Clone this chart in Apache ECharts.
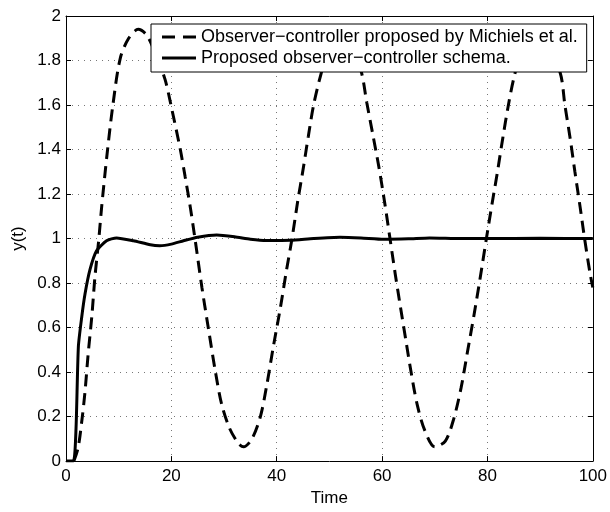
<!DOCTYPE html>
<html><head><meta charset="utf-8">
<script src="https://cdn.jsdelivr.net/npm/echarts@6/dist/echarts.min.js"></script>
<style>html,body{margin:0;padding:0;background:#fff}#c{width:610px;height:512px}</style>
</head><body><div id="c"></div>
<script>
const xTicks = [0, 20, 40, 60, 80, 100];
const yTicks = [0, 0.2, 0.4, 0.6, 0.8, 1, 1.2, 1.4, 1.6, 1.8, 2];
const seriesNames = ['Observer\u2212controller proposed by Michiels et al.', 'Proposed observer\u2212controller schema.'];
const michielsT = [1.5, 2.3, 3.0, 3.6, 4.2, 4.9, 5.5, 6.2, 6.8, 7.8, 8.9, 10.3, 11.9, 13.7, 15.3, 17, 18.8, 20.1, 21.7, 22.6, 23.6, 24.6, 25.8, 27.0, 28.3, 29.5, 31.0, 32.7, 33.7, 35.3, 36.9, 38.1, 39.4, 40.7, 41.8, 42.9, 44.0, 45.0, 46.0, 47.0, 48.3, 50, 52, 54, 56.1, 57.1, 58.3, 59.4, 60.5, 61.5, 62.5, 63.5, 64.5, 65.5, 66.7, 68.1, 70.0, 72.0, 73.6, 75.0, 76.2, 77.4, 78.6, 79.8, 80.9, 81.9, 82.9, 83.9, 85.0, 86.8, 88.9, 91, 93.8, 94.7, 95.7, 96.6, 97.6, 98.5, 99.5, 100];
const michielsY = [0, 0.06, 0.18, 0.31, 0.48, 0.65, 0.83, 0.99, 1.15, 1.38, 1.6, 1.81, 1.9, 1.94, 1.915, 1.83, 1.715, 1.58, 1.40, 1.28, 1.14, 0.98, 0.78, 0.60, 0.41, 0.26, 0.15, 0.08, 0.064, 0.10, 0.20, 0.34, 0.52, 0.69, 0.85, 1.0, 1.17, 1.31, 1.46, 1.60, 1.73, 1.86, 1.93, 1.89, 1.745, 1.61, 1.46, 1.32, 1.16, 1.0, 0.84, 0.69, 0.545, 0.40, 0.25, 0.138, 0.064, 0.09, 0.19, 0.33, 0.49, 0.65, 0.82, 1.0, 1.16, 1.30, 1.45, 1.59, 1.72, 1.87, 1.93, 1.88, 1.745, 1.60, 1.45, 1.30, 1.14, 0.99, 0.84, 0.78];
const proposedT = [0, 1.4, 1.9, 2.35, 3.0, 3.6, 4.55, 5.8, 7.7, 9.6, 12.8, 16, 17.8, 20, 22.3, 25, 28.6, 32, 35, 38, 42.6, 47, 52, 56, 60.3, 65, 69, 75, 80, 90, 100];
const proposedY = [0, 0, 0.145, 0.515, 0.65, 0.75, 0.86, 0.945, 0.99, 1.003, 0.99, 0.972, 0.968, 0.975, 0.99, 1.006, 1.016, 1.008, 0.997, 0.991, 0.992, 1.0, 1.006, 1.003, 0.997, 0.999, 1.003, 1.0, 1.0, 1.001, 1.0];

const FONT = "'Liberation Sans', Arial, Helvetica, sans-serif";
const chart = echarts.init(document.getElementById('c'), null, {renderer: 'canvas'});
const pair = (xs, ys) => xs.map((x, i) => [x, ys[i]]);
const gridLine = {show: true, lineStyle: {color: '#777', width: 1, type: [1, 5]}};
const fmtY = v => { const r = Math.round(v * 10) / 10; return yTicks.some(t => Math.abs(t - r) < 1e-9) ? String(r) : ''; };
const dashIcon = 'path://M0,0H13V3H0Z M21,0H34V3H21Z';
const solidIcon = 'path://M0,0H34V3H0Z';
chart.setOption({
  animation: false,
  backgroundColor: '#fff',
  grid: {left: 66, right: 17, top: 16, bottom: 46, containLabel: false},
  legend: {
    orient: 'vertical', left: 151, top: 24,
    backgroundColor: '#fff', borderColor: '#000', borderWidth: 1, borderRadius: 0,
    padding: [4, 9, 5, 11], itemGap: 3, itemWidth: 34, itemHeight: 3,
    textStyle: {fontFamily: FONT, fontSize: 18, color: '#000'},
    data: [
      {name: seriesNames[0], icon: dashIcon, itemStyle: {color: '#000', borderWidth: 0}},
      {name: seriesNames[1], icon: solidIcon, itemStyle: {color: '#000', borderWidth: 0}}
    ]
  },
  xAxis: [{
    type: 'value', min: xTicks[0], max: xTicks[xTicks.length - 1], interval: 20,
    name: 'Time', nameLocation: 'middle', nameGap: 28,
    nameTextStyle: {fontFamily: FONT, fontSize: 17, color: '#000'},
    axisLine: {show: true, onZero: false, lineStyle: {color: '#000', width: 1}},
    axisTick: {show: true, inside: true, length: 5, lineStyle: {color: '#000'}},
    axisLabel: {fontFamily: FONT, fontSize: 17, color: '#000', margin: 7},
    splitLine: gridLine
  }, {
    type: 'value', position: 'top', min: xTicks[0], max: xTicks[xTicks.length - 1], interval: 20,
    axisLine: {show: true, onZero: false, lineStyle: {color: '#000', width: 1}},
    axisTick: {show: true, inside: true, length: 5, lineStyle: {color: '#000'}},
    axisLabel: {show: false}, splitLine: {show: false}
  }],
  yAxis: [{
    type: 'value', min: yTicks[0], max: yTicks[yTicks.length - 1], interval: 0.2,
    name: 'y(t)', nameLocation: 'middle', nameGap: 29, nameRotate: 90,
    nameTextStyle: {fontFamily: FONT, fontSize: 17, color: '#000'},
    axisLine: {show: true, onZero: false, lineStyle: {color: '#000', width: 1}},
    axisTick: {show: true, inside: true, length: 5, lineStyle: {color: '#000'}},
    axisLabel: {fontFamily: FONT, fontSize: 17, color: '#000', margin: 5, formatter: fmtY},
    splitLine: gridLine
  }, {
    type: 'value', position: 'right', min: yTicks[0], max: yTicks[yTicks.length - 1], interval: 0.2,
    axisLine: {show: true, onZero: false, lineStyle: {color: '#000', width: 1}},
    axisTick: {show: true, inside: true, length: 5, lineStyle: {color: '#000'}},
    axisLabel: {show: false}, splitLine: {show: false}
  }],
  series: [{
    name: seriesNames[0], type: 'line', data: pair(michielsT, michielsY),
    showSymbol: false, symbol: 'none', smooth: 0.3, clip: true,
    lineStyle: {color: '#000', width: 3, type: [12, 7]}, itemStyle: {color: '#000'}
  }, {
    name: seriesNames[1], type: 'line', data: pair(proposedT, proposedY),
    showSymbol: false, symbol: 'none', smooth: 0.2, clip: true,
    lineStyle: {color: '#000', width: 3, type: 'solid'}, itemStyle: {color: '#000'}
  }]
});
</script></body></html>
